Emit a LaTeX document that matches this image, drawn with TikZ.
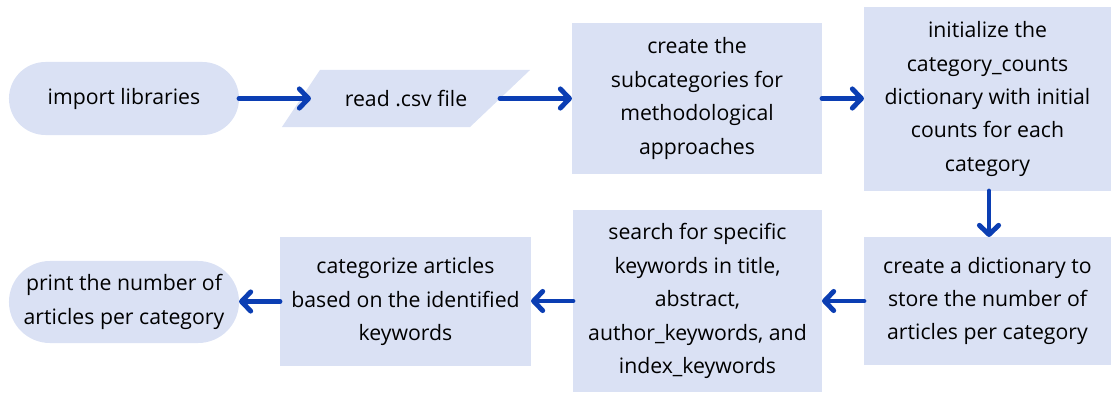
\documentclass[tikz,border=0pt]{standalone}
\usepackage{fontspec}
\setmainfont{Open Sans}
\usetikzlibrary{arrows.meta,shapes.misc,backgrounds}

\definecolor{boxfill}{HTML}{DAE1F4}
\definecolor{flowblue}{HTML}{0B3EB3}

\begin{document}
\begin{tikzpicture}[
  x=0.025cm, y=-0.025cm,
  step box/.style={rectangle, fill=boxfill, inner sep=0pt, outer sep=0pt, align=center,
    font=\fontsize{15.1}{23.8}\selectfont},
  term box/.style={step box, rounded rectangle},
  io box/.style={step box, fill=none},
  flow/.style={-{Straight Barb[length=2.3mm, width=4.8mm, round]}, line width=3.5pt,
    line cap=round, flowblue},
]
  % Page frame (pixels of the original)
  \useasboundingbox (0,0) rectangle (1117,394);

  % Top row, left to right
  \node[term box, minimum width=5.75cm, minimum height=1.825cm] (imp) at (124,98.5) {import libraries};
  \node[io box, minimum width=6.2cm, minimum height=1.425cm] (csv) at (406,98.5) {read .csv file};
  \node[step box, minimum width=6.25cm, minimum height=3.775cm] (sub) at (697,98.5)
    {create the\\ subcategories for\\ methodological\\ approaches};
  \node[step box, minimum width=6.175cm, minimum height=4.6cm] (init) at (987.5,99)
    {initialize the\\ category\_counts\\ dictionary with initial\\ counts for each\\ category};

  % Bottom row, right to left
  \node[step box, minimum width=6.175cm, minimum height=3.2cm] (dict) at (987.5,301)
    {create a dictionary to\\ store the number of\\ articles per category};
  \node[step box, minimum width=6.225cm, minimum height=4.55cm] (search) at (697.5,301)
    {search for specific\\ keywords in title,\\ abstract,\\ author\_keywords, and\\ index\_keywords};
  \node[step box, minimum width=6.275cm, minimum height=3.225cm] (cat) at (405.5,301.5)
    {categorize articles\\ based on the identified\\ keywords};
  \node[term box, minimum width=5.75cm, minimum height=2.05cm] (print) at (124,302)
    {print the number of\\ articles per category};

  % Parallelogram behind the csv step
  \begin{scope}[on background layer]
    \fill[boxfill] (csv.south west) -- ([xshift=0.95cm]csv.north west)
      -- (csv.north east) -- ([xshift=-1.5cm]csv.south east) -- cycle;
  \end{scope}

  % Connectors
  \draw[flow, shorten >=-0.725cm] (imp.east) -- (csv.west);
  \draw[flow, shorten <=-0.75cm] (csv.east) -- (sub.west);
  \draw[flow] (sub.east) -- (sub.east -| init.west);
  \draw[flow] (init.south -| 989,0) -- (dict.north -| 989,0);
  \draw[flow] (dict.west) -- (dict.west -| search.east);
  \draw[flow] (search.west) -- (search.west -| cat.east);
  \draw[flow] (cat.west) -- (cat.west -| print.east);

\end{tikzpicture}
\end{document}
